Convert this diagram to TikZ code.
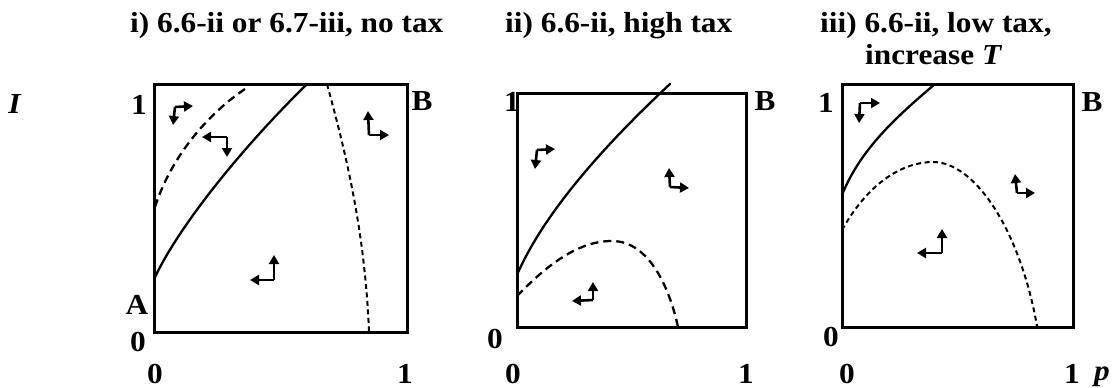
\documentclass[tikz,border=0pt]{standalone}
\usepackage{fontspec}
\setmainfont[FakeStretch=1.08]{Liberation Serif}
\usetikzlibrary{arrows.meta}
\begin{document}
\begin{tikzpicture}[x=1pt,y=-1pt,
  lbl/.style={font=\fontsize{29}{32}\selectfont\bfseries, inner sep=0pt},
  frame/.style={line width=3pt},
  curve/.style={line width=2.3pt, line join=round, line cap=round},
  dashc/.style={line width=2.3pt, dash pattern=on 8pt off 5pt},
  finec/.style={line width=2pt, dash pattern=on 5pt off 3.5pt},
  parr/.style={line width=2.6pt, -{Triangle[length=9pt,width=10pt]}}]
\useasboundingbox (0,0) rectangle (1112,388);

% titles
\node[lbl, anchor=base west] (t1) at (130,32) {i) 6.6-ii or 6.7-iii, no tax};
\node[lbl, anchor=base west] (t2) at (505,32) {ii) 6.6-ii, high tax};
\node[lbl, anchor=base west] (t3) at (820,32) {iii) 6.6-ii, low tax,};
\node[lbl, anchor=base west] (t3b) at (865,64) {increase \textit{T}};

% axis label I
\node[lbl] (ylab) at (15,104) {\textit{I}};

% ---------------- panel i ----------------
\draw[frame] (154,84) rectangle (407,332);
\node[lbl] (a1) at (139,105) {1};
\node[lbl] (aB) at (422,101) {B};
\node[lbl] (aA) at (137,305) {A};
\node[lbl] (a0) at (138,342) {0};
\node[lbl] (ax0) at (155,374) {0};
\node[lbl] (ax1) at (405,374) {1};
\draw[curve] (155,277) .. controls (180,225) and (240,150) .. (307,84);
\draw[dashc] (155,207) .. controls (170,160) and (205,115) .. (248,87);
\draw[finec] (327,84) .. controls (345,150) and (365,230) .. (369,332);
\coordinate (p1a) at (175,107);
\draw[parr] (p1a) -- ++(18,-1);
\draw[parr] (p1a) -- ++(-2,18);
\coordinate (p1b) at (227,137);
\draw[parr] (p1b) -- ++(-25,0);
\draw[parr] (p1b) -- ++(0,20);
\coordinate (p1c) at (369,135);
\draw[parr] (p1c) -- ++(-1,-24);
\draw[parr] (p1c) -- ++(20,0);
\coordinate (p1d) at (274,280);
\draw[parr] (p1d) -- ++(0,-25);
\draw[parr] (p1d) -- ++(-24,0);

% ---------------- panel ii ----------------
\draw[frame] (517,93) rectangle (746,327);
\node[lbl] (b1) at (512,102) {1};
\node[lbl] (bB) at (765,101) {B};
\node[lbl] (b0) at (495,339) {0};
\node[lbl] (bx0) at (513,374) {0};
\node[lbl] (bx1) at (746,374) {1};
\draw[curve] (517,275) .. controls (545,210) and (610,140) .. (670,84);
\draw[dashc] (517,296) .. controls (550,262) and (580,241) .. (612,241)
   .. controls (650,241) and (670,290) .. (678,327);
\coordinate (p2a) at (537,150);
\draw[parr] (p2a) -- ++(18,-1);
\draw[parr] (p2a) -- ++(-2,19);
\coordinate (p2b) at (670,187);
\draw[parr] (p2b) -- ++(-1,-19);
\draw[parr] (p2b) -- ++(19,1);
\coordinate (p2c) at (593,300);
\draw[parr] (p2c) -- ++(0,-18);
\draw[parr] (p2c) -- ++(-21,1);

% ---------------- panel iii ----------------
\draw[frame] (842,84) rectangle (1073,327);
\node[lbl] (c1) at (826,103) {1};
\node[lbl] (cB) at (1092,102) {B};
\node[lbl] (c0) at (831,337) {0};
\node[lbl] (cx0) at (847,374) {0};
\node[lbl] (cx1) at (1072,374) {1};
\node[lbl] (cp) at (1102,377) {\textit{p}};
\draw[curve] (842,195) .. controls (860,150) and (895,118) .. (935,84);
\draw[finec] (842,230) .. controls (870,180) and (905,162) .. (933,162)
   .. controls (975,162) and (1020,230) .. (1037,326);
\coordinate (p3a) at (860,103);
\draw[parr] (p3a) -- ++(20,0);
\draw[parr] (p3a) -- ++(-1,20);
\coordinate (p3b) at (1017,193);
\draw[parr] (p3b) -- ++(-2,-19);
\draw[parr] (p3b) -- ++(18,0);
\coordinate (p3c) at (942,253);
\draw[parr] (p3c) -- ++(0,-24);
\draw[parr] (p3c) -- ++(-25,0);
\end{tikzpicture}
\end{document}
